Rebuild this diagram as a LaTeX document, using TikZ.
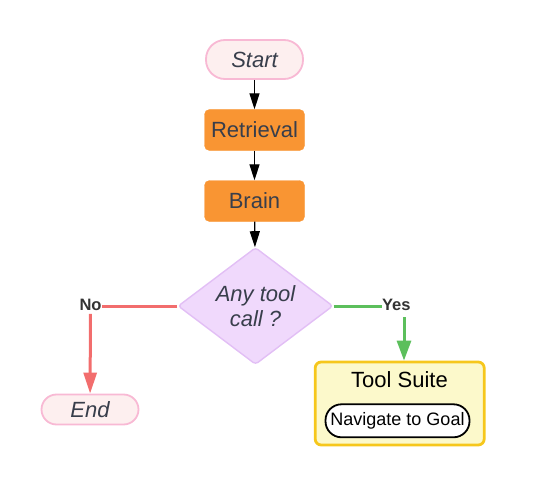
\documentclass[tikz,border=0pt]{standalone}
\usepackage{fontspec}
\setmainfont{Liberation Sans}
\usetikzlibrary{arrows.meta,shapes.geometric,positioning}

\definecolor{termfill}{HTML}{FDEFEF}
\definecolor{termline}{HTML}{F8B9D4}
\definecolor{stepfill}{HTML}{F99533}
\definecolor{askfill}{HTML}{F0D9FC}
\definecolor{askline}{HTML}{E2BFF5}
\definecolor{noline}{HTML}{F26D6D}
\definecolor{yesline}{HTML}{5CBF5C}
\definecolor{suitefill}{HTML}{FCF9CB}
\definecolor{suiteline}{HTML}{F6C71C}
\definecolor{inktext}{HTML}{383E4B}
\definecolor{labtext}{HTML}{333333}

\begin{document}
\begin{tikzpicture}[x=1pt, y=-1pt,
  terminal/.style={draw=termline, fill=termfill, line width=1.8pt,
    minimum width=97pt, inner sep=0pt, text=inktext,
    font=\fontsize{22}{25}\selectfont\itshape},
  stepbox/.style={draw=stepfill, fill=stepfill, rounded corners=5pt,
    minimum width=100pt, minimum height=41pt, inner sep=0pt, text=inktext,
    font=\fontsize{22}{25}\selectfont},
  askbox/.style={shape=diamond, draw=askline, fill=askfill, line width=1.4pt,
    rounded corners=3pt, aspect=1.3, minimum width=155pt, minimum height=117pt,
    inner sep=0pt, align=center, text=inktext,
    font=\fontsize{22}{25}\selectfont\itshape},
  suitebox/.style={draw=suiteline, fill=suitefill, line width=2.8pt,
    rounded corners=6pt, minimum width=169pt, minimum height=83pt},
  toolbox/.style={draw=black, fill=white, line width=1.8pt, rounded corners=16pt,
    minimum width=144pt, minimum height=33pt, inner sep=0pt,
    font=\fontsize{18}{20}\selectfont},
  branch/.style={inner xsep=0pt, inner ysep=3pt, text=labtext,
    font=\fontsize{16.5}{18}\selectfont\bfseries},
  flow/.style={line width=1.3pt, -{Triangle[length=16pt,width=10pt]}},
]
  \useasboundingbox (0,0) rectangle (560,487);

  % main column
  \node[terminal, minimum height=39pt, rounded corners=19pt] (start) at (254.5,59.5) {Start};
  \node[stepbox] (retrieval) at (254.5,130) {Retrieval};
  \node[stepbox] (brain) at (254.5,201) {Brain};
  \node[askbox] (ask) at (255.5,306) {Any tool\\call ?};

  \draw[flow] (start) -- (retrieval);
  \draw[flow] (retrieval) -- (brain);
  \draw[flow] (brain) -- (ask);

  % no branch
  \node[branch] (no) at (90.5,305) {No};
  \node[terminal, minimum height=30pt, rounded corners=15pt] (end) at (90,409.5) {End};
  \draw[noline, line width=3pt] (ask.west) -- (no.east |- ask.west);
  \draw[noline, line width=3pt, -{Triangle[length=21pt,width=13pt]}] (no) -- (end);

  % yes branch
  \node[branch] (yes) at (396.3,305) {Yes};
  \node[suitebox] (suite) at (399.7,403.5) {};
  \node[font=\fontsize{22}{25}\selectfont] (suitetitle) at (399.5,380) {Tool Suite};
  \node[toolbox] (nav) at (397.5,420.8) {Navigate to Goal};
  \coordinate (yesdrop) at (404,317);
  \draw[yesline, line width=3pt] (ask.east) -- (yes.west |- ask.east);
  \draw[yesline, line width=3pt, -{Triangle[length=20pt,width=14pt]}] (yesdrop) -- (yesdrop |- suite.north);
\end{tikzpicture}
\end{document}
